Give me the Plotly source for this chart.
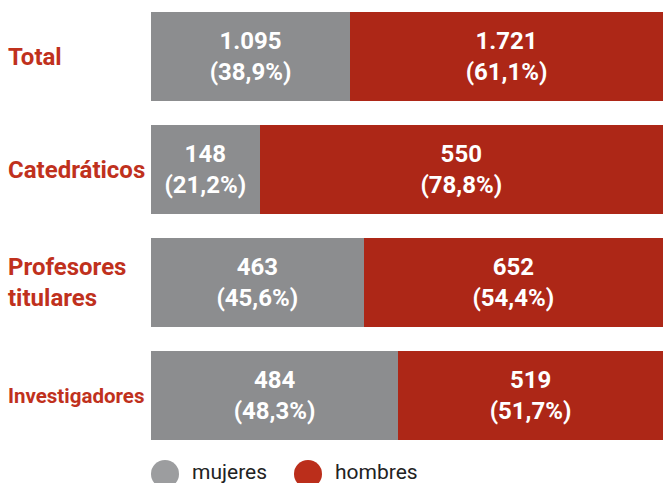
import plotly.graph_objects as go

categories = ["Total", "Catedráticos", "Profesores<br>titulares", "Investigadores"]
mujeres = [1095, 148, 463, 484]
hombres = [1721, 550, 652, 519]
mujeres_pct = ["38,9%", "21,2%", "45,6%", "48,3%"]
hombres_pct = ["61,1%", "78,8%", "54,4%", "51,7%"]
mujeres_lbl = ["1.095", "148", "463", "484"]
hombres_lbl = ["1.721", "550", "652", "519"]

GRAY = "#8c8d8f"
RED = "#ad2717"
LABEL_RED = "#c0311d"
FONT = "Roboto"

W, H = 663, 483
PX0, PX1 = 151, 663          # plot area, page x
PY0, PY1 = 0, 452            # plot area, page y
PW, PH = PX1 - PX0, PY1 - PY0


def px_x(px):
    return (px - PX0) / PW


def px_y(py):
    return (PY1 - py) / PH


ypos = list(range(len(categories)))

fig = go.Figure()
for vals, lbls, pcts, col, name in [
    (mujeres, mujeres_lbl, mujeres_pct, GRAY, "mujeres"),
    (hombres, hombres_lbl, hombres_pct, RED, "hombres"),
]:
    fig.add_trace(go.Bar(
        y=ypos, x=vals, orientation="h", name=name,
        marker=dict(color=col, line=dict(width=0)),
        text=[f"{a}<br>({b})" for a, b in zip(lbls, pcts)],
        textposition="inside", insidetextanchor="middle",
        textfont=dict(family=FONT, size=24, color="white", weight="bold"),
        hoverinfo="skip",
    ))

annotations = []
for i, c in enumerate(categories):
    longest = max(len(part) for part in c.split("<br>"))
    size = 24 if longest <= 12 else 20.5
    annotations.append(dict(
        x=px_x(8), xref="paper", y=i, yref="y", xshift=-2,
        xanchor="left", yanchor="middle", align="left",
        text=f"<b>{c}</b>", showarrow=False,
        font=dict(family=FONT, size=size, color=LABEL_RED),
    ))

# legend (drawn manually, as circles + text)
shapes = []
legend_items = [("mujeres", "#9c9d9f", 165), ("hombres", "#bb2e1b", 308)]
LY, R = 474, 14
for name, col, cx in legend_items:
    shapes.append(dict(type="circle", xref="paper", yref="paper",
                       x0=px_x(cx - R), x1=px_x(cx + R),
                       y0=px_y(LY + R), y1=px_y(LY - R),
                       fillcolor=col, line=dict(width=0)))
    annotations.append(dict(
        x=px_x(cx + 26), xref="paper", y=px_y(LY - 2), yref="paper",
        xanchor="left", yanchor="middle", text=name, showarrow=False,
        font=dict(family=FONT, size=21, color="#222222"), borderpad=0,
    ))

fig.update_layout(
    barmode="stack", barnorm="percent", bargap=0.21,
    width=W, height=H,
    margin=dict(l=PX0, r=W - PX1, t=PY0, b=H - PY1),
    paper_bgcolor="white", plot_bgcolor="white",
    showlegend=False,
    xaxis=dict(range=[0, 100], visible=False, fixedrange=True),
    yaxis=dict(range=[3.5, -0.5], visible=False, fixedrange=True),
    annotations=annotations, shapes=shapes,
)

fig.write_html(
    "out.html",
    config={"displayModeBar": False},
    post_script="document.body.style.margin='0';document.body.style.overflow='hidden';",
)
